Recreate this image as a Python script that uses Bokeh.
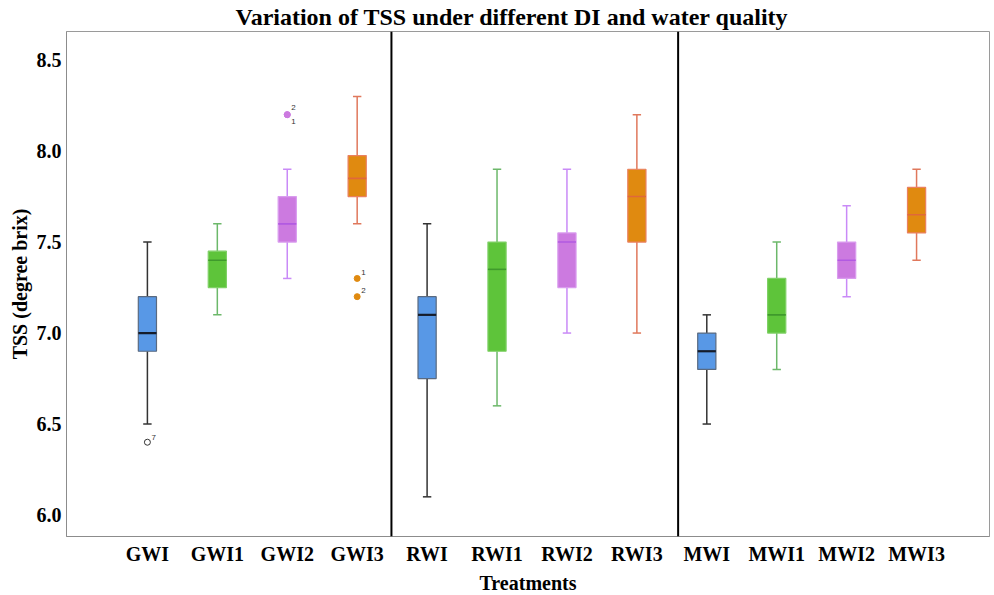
from bokeh.plotting import figure
from bokeh.models import Range1d, FixedTicker, Span, ColumnDataSource
from bokeh.core.properties import value
from bokeh.embed import file_html
from bokeh.resources import INLINE

# ---------------- data ----------------
treatments = ["GWI", "GWI1", "GWI2", "GWI3",
              "RWI", "RWI1", "RWI2", "RWI3",
              "MWI", "MWI1", "MWI2", "MWI3"]
whisker_low = [6.5, 7.1, 7.3, 7.6, 6.1, 6.6, 7.0, 7.0, 6.5, 6.8, 7.2, 7.4]
q1 = [6.9, 7.25, 7.5, 7.75, 6.75, 6.9, 7.25, 7.5, 6.8, 7.0, 7.3, 7.55]
median = [7.0, 7.4, 7.6, 7.85, 7.1, 7.35, 7.5, 7.75, 6.9, 7.1, 7.4, 7.65]
q3 = [7.2, 7.45, 7.75, 7.975, 7.2, 7.5, 7.55, 7.9, 7.0, 7.3, 7.5, 7.8]
whisker_high = [7.5, 7.6, 7.9, 8.3, 7.6, 7.9, 7.9, 8.2, 7.1, 7.5, 7.7, 7.9]

outlier_treatment = ["GWI", "GWI2", "GWI2", "GWI3", "GWI3"]
outlier_value = [6.4, 8.2, 8.2, 7.3, 7.2]
outlier_label = ["7", "2", "1", "1", "2"]

y_ticks = [6.0, 6.5, 7.0, 7.5, 8.0, 8.5]
y_tick_labels = ["6.0", "6.5", "7.0", "7.5", "8.0", "8.5"]

# ---------------- styles ----------------
fill_cols = ["#5898e6", "#5ec43a", "#cc7ae0", "#e08a10"]
border_cols = ["#5a6a80", "#7fd066", "#d99cee", "#ea8060"]
median_cols = ["#151c2a", "#3f9a2c", "#b25ae2", "#e0683a"]
whisker_cols = ["#333333", "#6cb86a", "#c98af7", "#e0785c"]

xs = list(range(len(treatments)))
gi = [i % 4 for i in xs]
box_w = 0.26
cap_w = 0.12

src = ColumnDataSource(dict(
    x=xs, lo=whisker_low, q1=q1, med=median, q3=q3, hi=whisker_high,
    x0=[x - box_w / 2 for x in xs], x1=[x + box_w / 2 for x in xs],
    c0=[x - cap_w / 2 for x in xs], c1=[x + cap_w / 2 for x in xs],
    fill=[fill_cols[g] for g in gi], border=[border_cols[g] for g in gi],
    medc=[median_cols[g] for g in gi], whc=[whisker_cols[g] for g in gi],
    medw=[2.2 if g == 0 else 1.6 for g in gi],
))

p = figure(frame_width=923, frame_height=505,
           x_range=Range1d(-1.157, 12.043), y_range=Range1d(5.882, 8.657),
           output_backend="svg", toolbar_location=None,
           min_border_left=66, min_border_right=1, min_border_top=26, min_border_bottom=0)

p.title.text = "Variation of TSS under different DI and water quality"
p.title.align = "left"
p.title.offset = 169
p.title.text_font = "Liberation Serif"
p.title.text_font_style = "bold"
p.title.text_font_size = "24px"
p.title.text_color = "black"
p.title.standoff = 3

p.xgrid.visible = False
p.ygrid.visible = False
p.outline_line_color = "#9a9a9a"
p.background_fill_color = "white"
p.border_fill_color = "white"

for ax in (p.xaxis[0], p.yaxis[0]):
    ax.major_tick_line_color = None
    ax.minor_tick_line_color = None
    ax.major_tick_out = 0
    ax.major_tick_in = 0
    ax.axis_line_color = "#8c8c8c"
    ax.major_label_text_font = "Liberation Serif"
    ax.major_label_text_font_style = "bold"
    ax.major_label_text_color = "black"
    ax.axis_label_text_font = "Liberation Serif"
    ax.axis_label_text_font_style = "bold"
    ax.axis_label_text_color = "black"

p.xaxis.ticker = FixedTicker(ticks=xs)
p.xaxis.major_label_overrides = {x: t for x, t in zip(xs, treatments)}
p.xaxis.major_label_text_font_size = "20px"
p.xaxis.major_label_standoff = 6
p.xaxis.axis_label = "Treatments"
p.xaxis.axis_label_text_font_size = "20px"
p.xaxis.axis_label_standoff = 4

p.yaxis.ticker = FixedTicker(ticks=y_ticks)
p.yaxis.major_label_overrides = {t: l for t, l in zip(y_ticks, y_tick_labels)}
p.yaxis.major_label_text_font_size = "20px"
p.yaxis.major_label_standoff = 5
p.yaxis.axis_label = "TSS (degree brix)"
p.yaxis.axis_label_text_font_size = "20px"
p.yaxis.axis_label_standoff = 3

# separators between water-quality groups
for loc in (3.49, 7.59):
    p.add_layout(Span(location=loc, dimension="height", line_color="black", line_width=2))

# whiskers
p.segment(x0="x", y0="q3", x1="x", y1="hi", source=src, line_color="whc", line_width=1.5)
p.segment(x0="x", y0="lo", x1="x", y1="q1", source=src, line_color="whc", line_width=1.5)
p.segment(x0="c0", y0="hi", x1="c1", y1="hi", source=src, line_color="whc", line_width=1.5)
p.segment(x0="c0", y0="lo", x1="c1", y1="lo", source=src, line_color="whc", line_width=1.5)
# boxes
p.vbar(x="x", width=box_w, bottom="q1", top="q3", source=src,
       fill_color="fill", line_color="border", line_width=1.2)
# medians
p.segment(x0="x0", y0="med", x1="x1", y1="med", source=src, line_color="medc", line_width="medw")

# outliers
oi = [treatments.index(t) for t in outlier_treatment]
o_fill = ["white" if treatments[i] == "GWI" else fill_cols[i % 4] for i in oi]
o_line = ["#333333" if treatments[i] == "GWI" else fill_cols[i % 4] for i in oi]
o_yoff = [-5, -7, 7, -6, -6]
osrc = ColumnDataSource(dict(x=oi, y=outlier_value, lab=outlier_label,
                             fill=o_fill, line=o_line, yoff=o_yoff))
p.scatter(x="x", y="y", source=osrc, size=6, fill_color="fill", line_color="line", line_width=1)
p.text(x="x", y="y", text="lab", source=osrc, x_offset=4, y_offset="yoff",
       text_font=value("Liberation Sans"), text_font_size="8px", text_color="#333333",
       text_baseline="middle", text_align="left")

open("out.html", "w").write(file_html(p, INLINE))
